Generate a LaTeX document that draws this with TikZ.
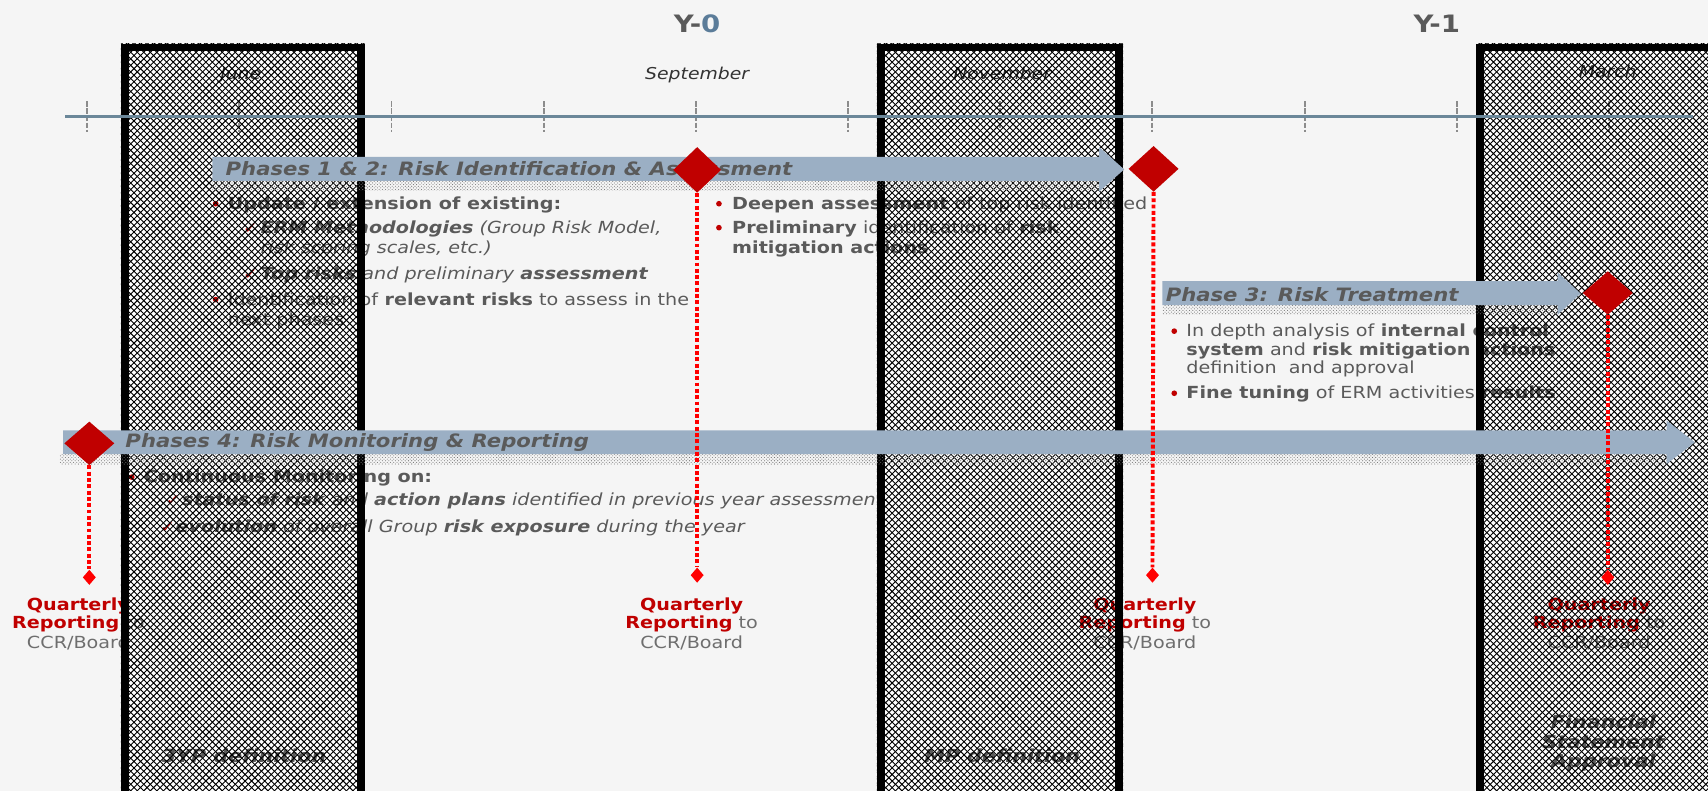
\documentclass[tikz,border=0pt]{standalone}
\usepackage{fontspec}
\setmainfont{DejaVu Sans}[FakeStretch=1.15]
\usetikzlibrary{shapes.geometric,patterns}
\definecolor{bg}{HTML}{F5F5F5}
\definecolor{txtgray}{HTML}{5A5A5A}
\definecolor{lightgray}{HTML}{6E6E6E}
\definecolor{arrowfill}{HTML}{9BAFC4}
\definecolor{darkred}{HTML}{C00000}
\definecolor{brightred}{HTML}{FF0000}
\definecolor{tlinec}{HTML}{6B8799}
\definecolor{yblue}{HTML}{5B7C99}
\definecolor{tickc}{HTML}{8C8C8C}
\definecolor{monthc}{HTML}{333333}
\pgfdeclarepatternformonly{hatchX}{\pgfqpoint{-1pt}{-1pt}}{\pgfqpoint{7pt}{7pt}}{\pgfqpoint{6pt}{6pt}}{%
  \pgfsetlinewidth{0.85pt}%
  \pgfpathmoveto{\pgfqpoint{0pt}{0pt}}\pgfpathlineto{\pgfqpoint{6pt}{6pt}}%
  \pgfpathmoveto{\pgfqpoint{0pt}{6pt}}\pgfpathlineto{\pgfqpoint{6pt}{0pt}}%
  \pgfusepath{stroke}%
}
\tikzset{
  txt/.style={inner sep=0pt, anchor=base west, text=txtgray, font=\fontsize{15.3}{18}\selectfont},
  ttl/.style={inner sep=0pt, anchor=base west, text=txtgray, font=\fontsize{16.9}{20}\selectfont\bfseries\itshape},
  month/.style={inner sep=0pt, anchor=base, text=monthc, font=\fontsize{15}{18}\selectfont\itshape},
  qlabel/.style={inner sep=0pt, anchor=base, text=lightgray, font=\fontsize{15.3}{18}\selectfont},
  bigd/.style={diamond, fill=darkred, inner sep=0pt, minimum width=46pt, minimum height=42pt},
  smalld/.style={diamond, fill=brightred, inner sep=0pt, minimum width=12pt, minimum height=14pt},
  dotline/.style={draw=brightred, line width=3.6pt, dash pattern=on 3.6pt off 2.2pt},
  tickmark/.style={draw=tickc, line width=1.8pt, dash pattern=on 5pt off 1.5pt},
  barfill/.style={fill=arrowfill},
  shadowstrip/.style={pattern=crosshatch dots, pattern color=black!55},
  colhatch/.style={pattern=hatchX, pattern color=black},
  colborder/.style={draw=black, line width=7pt},
  bul/.style={fill=darkred},
  chk/.style={inner sep=0pt, anchor=base west, text=darkred, font=\fontsize{14}{15}\selectfont},
  ylab/.style={inner sep=0pt, anchor=base, text=txtgray, font=\fontsize{22}{24}\selectfont\bfseries},
  botl/.style={inner sep=0pt, anchor=base, text=txtgray, font=\fontsize{16.5}{18}\selectfont\bfseries\itshape},
}
\newcommand\qrep[2]{%
  \node[qlabel] (#1a) at (#2,560) {\textbf{\textcolor{darkred}{Quarterly}}};
  \node[qlabel] (#1b) at (#2,577) {\textbf{\textcolor{darkred}{Reporting}} to};
  \node[qlabel] (#1c) at (#2,595) {CCR/Board};
}
\begin{document}
\begin{tikzpicture}[x=1pt,y=-1pt]
\useasboundingbox (0,0) rectangle (1568,726);
\begin{scope}
\clip (0,0) rectangle (1568,726);
\fill[bg] (0,0) rectangle (1568,726);
% column backgrounds
\fill[white] (111,40) rectangle (335,760);
\fill[white] (805,40) rectangle (1031,760);
\fill[white] (1355,40) rectangle (1620,760);
% ticks
\foreach \k in {0,...,10} \draw[tickmark] ({80+139.7*\k},93) -- ({80+139.7*\k},121);
% year labels
\node[ylab] (y0) at (640,30) {Y-\textcolor{yblue}{0}};
\node[ylab] (y1) at (1319,30) {Y-1};
% months
\node[month] (mjune) at (221,73) {June};
\node[month] (msep) at (640,73) {September};
\node[month] (mnov) at (920,73) {November};
\node[month] (mmar) at (1476,71) {March};
% block A
\fill[bul] (198,187) circle (2.6);
\node[txt] (a1) at (209,192) {\textbf{Update / extension of existing:}};
\node[chk] (ca2) at (223,214) {✓};
\node[txt] (a2) at (239,214) {\textbf{\itshape ERM Methodologies} \textit{(Group Risk Model,}};
\node[txt] (a3) at (239,233) {\textit{risk scoring scales, etc.)}};
\node[chk] (ca4) at (223,257) {✓};
\node[txt] (a4) at (239,257) {\textbf{\itshape Top risks} \textit{and preliminary} \textbf{\itshape assessment}};
\fill[bul] (198,275) circle (2.6);
\node[txt] (a5) at (209,280) {Identification of \textbf{relevant risks} to assess in the};
\node[txt] (a6) at (209,299) {next phases};
% block B
\fill[bul] (660,187) circle (2.6);
\node[txt] (b1) at (672,192) {\textbf{Deepen assessment} of top risk identified};
\fill[bul] (660,209) circle (2.6);
\node[txt] (b2) at (672,214) {\textbf{Preliminary} identification of \textbf{risk}};
\node[txt] (b3) at (672,233) {\textbf{mitigation actions}};
% block C
\fill[bul] (1078,304) circle (2.6);
\node[txt] (c1) at (1089,309) {In depth analysis of \textbf{internal control}};
\node[txt] (c2) at (1089,326) {\textbf{system} and \textbf{risk mitigation actions}};
\node[txt] (c3) at (1089,343) {definition\ \ and approval};
\fill[bul] (1078,361) circle (2.6);
\node[txt] (c4) at (1089,366) {\textbf{Fine tuning} of ERM activities \textbf{results}};
% block D
\fill[bul] (121,438) circle (2.6);
\node[txt] (d1t) at (132,443) {\textbf{Continuous Monitoring on:}};
\node[chk] (cd2) at (152,464) {✓};
\node[txt] (d2t) at (167,464) {\textbf{\itshape status of risk} \textit{and} \textbf{\itshape action plans} \textit{identified in previous year assessment}};
\node[chk] (cd3) at (147,489) {✓};
\node[txt] (d3t) at (161,489) {\textbf{\itshape evolution} \textit{of overall Group} \textbf{\itshape risk exposure} \textit{during the year}};
% quarterly labels
\qrep{qa}{72}
\qrep{qb}{635}
\qrep{qc}{1051}
\qrep{qd}{1468}
% bottom labels
\node[botl] (l3yp) at (224,700) {3YP definition};
\node[botl] (lmp) at (920,700) {MP definition};
\node[botl] (lfs1) at (1472,669) {Financial};
\node[botl] (lfs2) at (1472,687) {Statement};
\node[botl] (lfs3) at (1472,705) {Approval};
% hatch overlay
\fill[colhatch] (111,40) rectangle (335,760);
\fill[colhatch] (805,40) rectangle (1031,760);
\fill[colhatch] (1355,40) rectangle (1620,760);
\draw[colborder] (114.5,43.5) rectangle (331.5,780);
\draw[colborder] (808.5,43.5) rectangle (1027.5,780);
\draw[colborder] (1358.5,43.5) rectangle (1640,780);
% timeline
\draw[draw=tlinec, line width=3pt] (60,107) -- (1554,107);
% phase arrows
\fill[shadowstrip] (195,166) rectangle (1009,175);
\fill[barfill] (195,144) -- (1009,144) -- (1009,135) -- (1032,155.5) -- (1009,176) -- (1009,166) -- (195,166) -- cycle;
\fill[shadowstrip] (1067,280) rectangle (1430,289);
\fill[barfill] (1067,258) -- (1430,258) -- (1430,250) -- (1451,269.5) -- (1430,289) -- (1430,280) -- (1067,280) -- cycle;
\fill[shadowstrip] (55,417) rectangle (1530,426);
\fill[barfill] (58,395) -- (1530,395) -- (1530,386) -- (1556,406) -- (1530,426) -- (1530,417) -- (58,417) -- cycle;
\node[ttl] (t12) at (207,161) {Phases 1 \& 2: Risk Identification \& Assessment};
\node[ttl] (t3) at (1070,277) {Phase 3: Risk Treatment};
\node[ttl] (t4) at (115,411) {Phases 4: Risk Monitoring \& Reporting};
% milestones
\node[smalld] (s1) at (640,528) {};
\node[smalld] (s2) at (1058,528) {};
\node[smalld] (s3) at (1476,530) {};
\node[smalld] (s4) at (82,530) {};
\node[bigd, minimum width=44pt] (m1) at (640,156) {};
\node[bigd] (m2) at (1059,155) {};
\node[bigd, minimum height=40pt] (m3) at (1476,269) {};
\node[bigd, minimum height=40pt] (m4) at (82,407) {};
\draw[dotline] (m1.south) -- (s1.north);
\draw[dotline] (m2.south) -- (s2.north);
\draw[dotline] (m3.south) -- (s3.north);
\draw[dotline] (m4.south) -- (s4.north);
\end{scope}
\end{tikzpicture}
\end{document}
